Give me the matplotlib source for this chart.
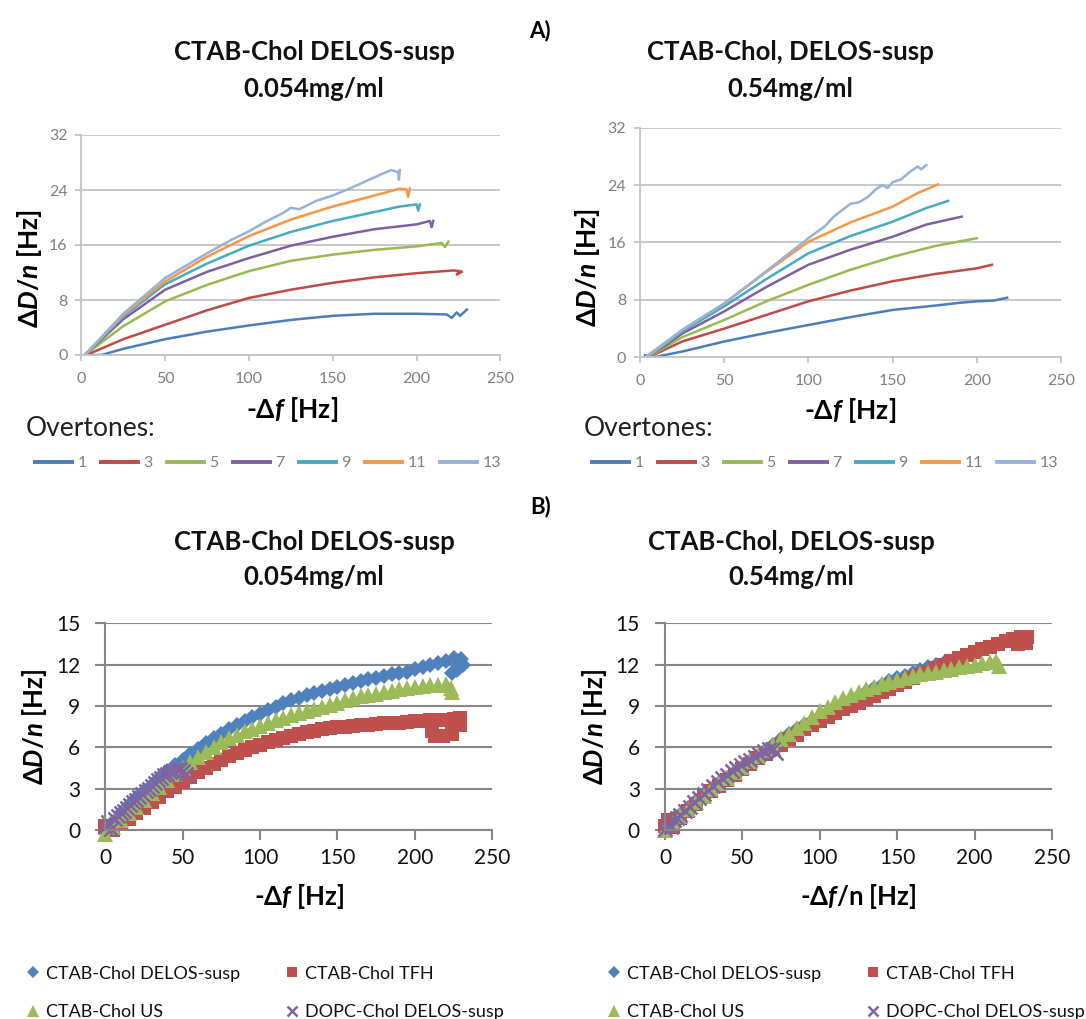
import matplotlib
matplotlib.use('Agg')
import matplotlib.pyplot as plt

plt.rcParams['font.family'] = ['Lato', 'DejaVu Sans']
plt.rcParams['mathtext.fontset'] = 'custom'
plt.rcParams['mathtext.rm'] = 'Lato:bold'
plt.rcParams['mathtext.it'] = 'Lato:italic:bold'
plt.rcParams['mathtext.bf'] = 'Lato:bold'

W, H = 1086, 1019

# ---------------- data: panel A (overtones), -df vs dD/n ----------------
overtones = ['1', '3', '5', '7', '9', '11', '13']
overtone_colors = ['#4a7ebb', '#be4b48', '#98b954', '#7d60a0', '#46aac5', '#f79646', '#95b3d7']

# A left: CTAB-Chol DELOS-susp 0.054 mg/ml
al_x1 = [3, 12, 25, 50, 75, 100, 125, 150, 175, 200, 218, 221, 224, 226, 230]
al_y1 = [0, 0, 0.9, 2.3, 3.4, 4.3, 5.1, 5.7, 6.0, 6.0, 5.9, 5.4, 6.2, 5.7, 6.6]
al_x3 = [3, 25, 50, 75, 100, 125, 150, 175, 200, 222, 226, 224, 227]
al_y3 = [0, 2.3, 4.4, 6.5, 8.3, 9.5, 10.5, 11.3, 11.9, 12.3, 12.2, 11.7, 12.1]
al_x5 = [2, 25, 50, 75, 100, 125, 150, 175, 200, 215, 217, 219]
al_y5 = [0, 4.2, 7.8, 10.2, 12.2, 13.7, 14.6, 15.3, 15.8, 16.3, 15.7, 16.5]
al_x7 = [2, 25, 50, 75, 100, 125, 150, 175, 200, 208, 209, 210]
al_y7 = [0, 5.2, 9.5, 12.1, 14.1, 15.9, 17.2, 18.3, 19.0, 19.5, 18.6, 19.5]
al_x9 = [2, 25, 50, 75, 100, 125, 150, 175, 190, 200, 201, 202]
al_y9 = [0, 5.6, 10.3, 13.3, 15.9, 17.9, 19.5, 20.8, 21.6, 21.9, 21.0, 21.9]
al_x11 = [2, 25, 50, 75, 100, 125, 150, 175, 190, 194, 195, 196]
al_y11 = [0, 5.8, 10.7, 14.3, 17.3, 19.7, 21.6, 23.2, 24.2, 24.1, 23.0, 24.2]
al_x13 = [2, 25, 50, 75, 90, 100, 110, 120, 125, 130, 140, 150, 160, 170, 180, 185, 189, 189.5, 190]
al_y13 = [0, 6.0, 11.2, 14.8, 16.8, 18.0, 19.4, 20.6, 21.4, 21.2, 22.4, 23.2, 24.2, 25.3, 26.4, 26.9, 26.6, 25.5, 26.9]

# A right: CTAB-Chol, DELOS-susp 0.54 mg/ml
ar_x1 = [3, 8, 25, 50, 75, 100, 125, 150, 175, 190, 200, 210, 218]
ar_y1 = [0.3, 0, 0.8, 2.2, 3.4, 4.5, 5.6, 6.6, 7.2, 7.6, 7.8, 7.9, 8.3]
ar_x3 = [5, 25, 50, 75, 100, 125, 150, 175, 200, 209]
ar_y3 = [0, 2.2, 4.0, 5.9, 7.8, 9.3, 10.6, 11.6, 12.4, 12.9]
ar_x5 = [5, 25, 50, 75, 100, 125, 150, 175, 200]
ar_y5 = [0, 2.8, 5.2, 7.8, 10.1, 12.2, 14.0, 15.5, 16.6]
ar_x7 = [5, 25, 50, 75, 100, 125, 150, 170, 191]
ar_y7 = [0, 3.3, 6.4, 9.8, 12.9, 15.0, 16.8, 18.5, 19.6]
ar_x9 = [5, 25, 50, 75, 100, 125, 150, 170, 183]
ar_y9 = [0, 3.6, 7.1, 10.9, 14.5, 16.9, 18.9, 20.8, 21.8]
ar_x11 = [4, 25, 50, 75, 100, 125, 150, 165, 177]
ar_y11 = [0, 3.8, 7.5, 11.9, 16.1, 18.8, 21.0, 22.9, 24.1]
ar_x13 = [3, 25, 50, 75, 100, 110, 115, 120, 125, 130, 135, 140, 144, 147, 150, 155, 160, 165, 167, 170]
ar_y13 = [0, 3.8, 7.5, 12.0, 16.6, 18.3, 19.6, 20.5, 21.4, 21.6, 22.3, 23.4, 24.0, 23.6, 24.4, 24.8, 25.8, 26.6, 26.2, 26.8]

# ---------------- data: panel B (preparation methods) ----------------
methods = ['CTAB-Chol DELOS-susp', 'CTAB-Chol TFH', 'CTAB-Chol US', 'DOPC-Chol DELOS-susp']
method_colors = ['#4f81bd', '#c0504d', '#9bbb59', '#8064a2']

# B left, x = -df [Hz]
bl_x_delos = [0, 5, 10, 15, 20, 25, 30, 35, 40, 45, 50, 55, 60, 65, 70, 75, 80, 85, 90, 95, 100, 105, 110, 115,
              120, 125, 130, 135, 140, 145, 150, 155, 160, 165, 170, 175, 180, 185, 190, 195, 200, 205, 210, 215,
              220, 225, 230, 231, 227, 224]
bl_y_delos = [0.0, 0.6, 1.2, 1.8, 2.3, 2.8, 3.3, 3.8, 4.25, 4.7, 5.1, 5.5, 5.9, 6.3, 6.65, 7.0, 7.3, 7.6, 7.9, 8.2,
              8.45, 8.7, 8.95, 9.2, 9.4, 9.6, 9.8, 9.95, 10.1, 10.25, 10.4, 10.55, 10.7, 10.8, 10.95, 11.05, 11.2,
              11.3, 11.4, 11.5, 11.65, 11.8, 11.95, 12.1, 12.3, 12.5, 12.4, 12.0, 11.6, 11.4]
bl_x_tfh = [0, 5, 10, 15, 20, 25, 30, 35, 40, 45, 50, 55, 60, 65, 70, 75, 80, 85, 90, 95, 100, 105, 110, 115,
            120, 125, 130, 135, 140, 145, 150, 155, 160, 165, 170, 175, 180, 185, 190, 195, 200, 205, 210, 215,
            220, 225, 229, 229, 224, 218, 213, 211]
bl_y_tfh = [0.3, 0.0, 0.4, 0.8, 1.2, 1.6, 2.0, 2.4, 2.8, 3.15, 3.5, 3.85, 4.2, 4.5, 4.8, 5.1, 5.35, 5.6, 5.8, 6.0,
            6.2, 6.4, 6.55, 6.7, 6.85, 7.0, 7.1, 7.2, 7.3, 7.4, 7.45, 7.5, 7.55, 7.6, 7.65, 7.7, 7.75, 7.8, 7.8,
            7.85, 7.9, 7.9, 7.95, 8.0, 8.0, 8.05, 8.1, 7.6, 7.0, 6.8, 6.8, 7.2]
bl_x_us = [0, 5, 10, 15, 20, 25, 30, 35, 40, 45, 50, 55, 60, 65, 70, 75, 80, 85, 90, 95, 100, 105, 110, 115,
           120, 125, 130, 135, 140, 145, 150, 155, 160, 165, 170, 175, 180, 185, 190, 195, 200, 205, 210, 215,
           220, 223, 224]
bl_y_us = [-0.3, 0.2, 0.7, 1.2, 1.7, 2.2, 2.7, 3.15, 3.6, 4.05, 4.5, 4.9, 5.3, 5.65, 6.0, 6.35, 6.65, 6.9, 7.15,
           7.35, 7.55, 7.75, 7.95, 8.15, 8.35, 8.5, 8.65, 8.8, 8.95, 9.1, 9.25, 9.4, 9.55, 9.7, 9.8, 9.9, 10.0,
           10.1, 10.2, 10.3, 10.4, 10.45, 10.5, 10.55, 10.6, 10.3, 10.0]
bl_x_dopc = [0, 2, 4, 6, 8, 10, 12, 14, 16, 18, 20, 22, 24, 26, 28, 30, 32, 34, 36, 38, 40, 42, 44, 46, 48, 50, 52]
bl_y_dopc = [0.2, 0.6, 0.1, 0.8, 1.0, 1.2, 1.4, 1.6, 1.8, 2.0, 2.2, 2.4, 2.6, 2.8, 3.0, 3.2, 3.4, 3.6, 3.8, 4.0,
             4.1, 4.2, 4.3, 4.4, 4.4, 4.3, 4.1]

# B right, x = -df/n [Hz]
br_x_delos = [0, 5, 10, 15, 20, 25, 30, 35, 40, 45, 50, 55, 60, 65, 70, 75, 80, 85, 90, 95, 100, 105, 110, 115,
              120, 125, 130, 135, 140, 145, 150, 155, 160, 165, 170, 175, 180]
br_y_delos = [0.0, 0.6, 1.1, 1.6, 2.1, 2.6, 3.0, 3.4, 3.8, 4.2, 4.6, 5.0, 5.4, 5.8, 6.2, 6.6, 7.0, 7.3, 7.6, 7.9,
              8.2, 8.5, 8.8, 9.1, 9.4, 9.7, 10.0, 10.3, 10.55, 10.8, 11.0, 11.2, 11.4, 11.6, 11.8, 11.95, 12.1]
br_x_tfh = [0, 2, 5, 10, 15, 20, 25, 30, 35, 40, 45, 50, 55, 60, 65, 70, 75, 80, 85, 90, 95, 100, 105, 110, 115,
            120, 125, 130, 135, 140, 145, 150, 155, 160, 165, 170, 175, 180, 185, 190, 195, 200, 205, 210, 215,
            220, 225, 230, 234, 233, 228]
br_y_tfh = [0.3, 0.7, 0.2, 0.9, 1.4, 1.9, 2.4, 2.8, 3.2, 3.6, 4.0, 4.4, 4.8, 5.2, 5.5, 5.9, 6.2, 6.6, 6.9, 7.3,
            7.6, 7.9, 8.2, 8.5, 8.75, 9.0, 9.25, 9.5, 9.75, 10.0, 10.25, 10.5, 10.75, 11.0, 11.25, 11.5, 11.75,
            12.0, 12.25, 12.5, 12.7, 12.9, 13.1, 13.3, 13.5, 13.7, 13.85, 14.0, 14.0, 13.6, 13.5]
br_x_us = [0, 5, 10, 15, 20, 25, 30, 35, 40, 45, 50, 55, 60, 65, 70, 75, 80, 85, 90, 95, 100, 105, 110, 115,
           120, 125, 130, 135, 140, 145, 150, 155, 160, 165, 170, 175, 180, 185, 190, 195, 200, 205, 210, 214, 216]
br_y_us = [0.0, 0.5, 1.0, 1.5, 2.0, 2.5, 3.0, 3.4, 3.8, 4.2, 4.6, 5.0, 5.4, 5.8, 6.2, 6.6, 7.0, 7.4, 7.8, 8.2,
           8.6, 8.95, 9.3, 9.55, 9.8, 10.0, 10.2, 10.4, 10.6, 10.75, 10.9, 11.05, 11.2, 11.3, 11.4, 11.5, 11.6,
           11.7, 11.8, 11.9, 12.0, 12.1, 12.2, 12.3, 11.9]
br_x_dopc = [0, 2, 4, 6, 8, 10, 13, 16, 19, 22, 25, 28, 31, 34, 37, 40, 43, 46, 49, 52, 55, 58, 61, 64, 67, 70, 72]
br_y_dopc = [0.1, 0.5, 0.2, 0.7, 0.9, 1.1, 1.4, 1.7, 2.0, 2.3, 2.6, 2.9, 3.2, 3.5, 3.75, 4.0, 4.25, 4.5, 4.7,
             4.9, 5.1, 5.3, 5.5, 5.7, 5.85, 5.9, 5.6]

fig = plt.figure(figsize=(W / 100, H / 100), dpi=100)


def px_axes(x0, y0, x1, y1):
    # pixel box (top-left origin) -> figure axes
    return fig.add_axes([x0 / W, 1 - y1 / H, (x1 - x0) / W, (y1 - y0) / H])


def label_text(x, y, s, **kw):
    fig.text(x / W, 1 - y / H, s, **kw)


ylab = r'$\Delta D/n$ [Hz]'

# ---------------- panel A axes ----------------
ax_al = px_axes(81.4, 135, 500.3, 355)
ax_ar = px_axes(640, 127.7, 1061, 357.3)

al_data = [(al_x1, al_y1), (al_x3, al_y3), (al_x5, al_y5), (al_x7, al_y7),
           (al_x9, al_y9), (al_x11, al_y11), (al_x13, al_y13)]
ar_data = [(ar_x1, ar_y1), (ar_x3, ar_y3), (ar_x5, ar_y5), (ar_x7, ar_y7),
           (ar_x9, ar_y9), (ar_x11, ar_y11), (ar_x13, ar_y13)]

for ax, data in [(ax_al, al_data), (ax_ar, ar_data)]:
    for (xs, ys), c, lab in zip(data, overtone_colors, overtones):
        ax.plot(xs, ys, color=c, lw=1.8, label=lab, solid_joinstyle='round')
    ax.set_xlim(0, 250)
    ax.set_ylim(0, 32)
    ax.set_xticks([0, 50, 100, 150, 200, 250])
    ax.set_yticks([0, 8, 16, 24, 32])
    ax.grid(axis='y', color='#c4c4c4', lw=1.3)
    ax.set_axisbelow(True)
    for s in ['top', 'right']:
        ax.spines[s].set_visible(False)
    for s in ['left', 'bottom']:
        ax.spines[s].set_color('#c4c4c4')
        ax.spines[s].set_linewidth(1.3)
    ax.tick_params(axis='both', colors='#c4c4c4', labelcolor='#808080', labelsize=11.5,
                   length=4, width=1.3)
    ax.tick_params(axis='x', pad=8)
    ax.tick_params(axis='y', pad=6)
    ax.set_xlabel(r'-$\Delta f$ [Hz]', fontsize=19, fontweight='bold', va='center')
    ax.set_ylabel(ylab, fontsize=19, fontweight='bold', va='center')

ax_al.xaxis.set_label_coords(0.503, -0.25)
ax_al.yaxis.set_label_coords(-0.125, 0.395)
ax_ar.xaxis.set_label_coords(0.498, -0.23)
ax_ar.yaxis.set_label_coords(-0.124, 0.389)

# ---------------- panel B axes ----------------
ax_bl = px_axes(105.3, 623.3, 492.3, 830)
ax_br = px_axes(665, 623.3, 1052, 830)

bl_data = [(bl_x_delos, bl_y_delos), (bl_x_tfh, bl_y_tfh), (bl_x_us, bl_y_us), (bl_x_dopc, bl_y_dopc)]
br_data = [(br_x_delos, br_y_delos), (br_x_tfh, br_y_tfh), (br_x_us, br_y_us), (br_x_dopc, br_y_dopc)]
markers = ['D', 's', '^', 'x']
msizes = [8, 10.5, 12, 10]

for ax, data in [(ax_bl, bl_data), (ax_br, br_data)]:
    for (xs, ys), c, m, ms, lab in zip(data, method_colors, markers, msizes, methods):
        if m == 'x':
            ax.plot(xs, ys, ls='none', marker=m, ms=ms, color=c, mew=1.8, label=lab, clip_on=False)
        else:
            ax.plot(xs, ys, ls='none', marker=m, ms=ms, color=c, mew=0, label=lab, clip_on=False)
    ax.set_xlim(0, 250)
    ax.set_ylim(0, 15)
    ax.set_xticks([0, 50, 100, 150, 200, 250])
    ax.set_yticks([0, 3, 6, 9, 12, 15])
    ax.grid(axis='y', color='#878787', lw=1.5)
    ax.set_axisbelow(True)
    for s in ['top', 'right']:
        ax.spines[s].set_visible(False)
    for s in ['left', 'bottom']:
        ax.spines[s].set_color('#878787')
        ax.spines[s].set_linewidth(1.5)
    ax.tick_params(axis='both', colors='#878787', labelcolor='#111111', labelsize=15,
                   length=7, width=1.5)
    ax.tick_params(axis='x', pad=6)
    ax.tick_params(axis='y', pad=11)
    ax.set_ylabel(ylab, fontsize=18.5, fontweight='bold', va='center')

ax_bl.set_xlabel(r'-$\Delta f$ [Hz]', fontsize=18.5, fontweight='bold', va='center')
ax_br.set_xlabel(r'-$\Delta f$/n [Hz]', fontsize=18.5, fontweight='bold', va='center')
ax_bl.xaxis.set_label_coords(0.5, -0.324)
ax_bl.yaxis.set_label_coords(-0.184, 0.498)
ax_br.xaxis.set_label_coords(0.499, -0.324)
ax_br.yaxis.set_label_coords(-0.183, 0.498)

# ---------------- titles and panel letters ----------------
tkw = dict(fontsize=18.5, fontweight='bold', ha='center', va='baseline', color='#111111')
label_text(314, 60, 'CTAB-Chol DELOS-susp', **tkw)
label_text(314, 97, '0.054mg/ml', **tkw)
label_text(790, 60, 'CTAB-Chol, DELOS-susp', **tkw)
label_text(790, 97, '0.54mg/ml', **tkw)
label_text(314, 550, 'CTAB-Chol DELOS-susp', **tkw)
label_text(314, 585, '0.054mg/ml', **tkw)
label_text(791, 550, 'CTAB-Chol, DELOS-susp', **tkw)
label_text(791, 585, '0.54mg/ml', **tkw)
label_text(540, 37, 'A)', fontsize=16, fontweight='bold', ha='center', va='baseline')
label_text(541, 513, 'B)', fontsize=16, fontweight='bold', ha='center', va='baseline')

label_text(26, 428, 'Overtones:', fontsize=19, ha='left', va='center', color='#222222')
label_text(584, 428, 'Overtones:', fontsize=19, ha='left', va='center', color='#222222')

# ---------------- legends ----------------
lkw = dict(ncol=7, loc='center', frameon=False, fontsize=11.5, handlelength=2.3, handletextpad=0.35,
           columnspacing=0.9, borderpad=0, borderaxespad=0, labelcolor='#808080')
h, l = ax_al.get_legend_handles_labels()
leg = fig.legend(h, l, bbox_to_anchor=(268 / W, 1 - 463 / H), **lkw)
for ln in leg.get_lines():
    ln.set_linewidth(2.8)
h, l = ax_ar.get_legend_handles_labels()
leg = fig.legend(h, l, bbox_to_anchor=(825 / W, 1 - 463 / H), **lkw)
for ln in leg.get_lines():
    ln.set_linewidth(2.8)

bkw = dict(ncol=2, loc='center left', frameon=False, fontsize=13, handlelength=0.8, handletextpad=0.3,
           columnspacing=2.5, labelspacing=1.25, borderpad=0, borderaxespad=0, markerscale=0.75,
           labelcolor='#111111')
order = [0, 2, 1, 3]
h, l = ax_bl.get_legend_handles_labels()
fig.legend([h[i] for i in order], [l[i] for i in order], bbox_to_anchor=(26 / W, 1 - 993 / H), **bkw)
h, l = ax_br.get_legend_handles_labels()
fig.legend([h[i] for i in order], [l[i] for i in order], bbox_to_anchor=(607 / W, 1 - 993 / H), **bkw)

fig.savefig('out.png', dpi=100)
plt.close(fig)
